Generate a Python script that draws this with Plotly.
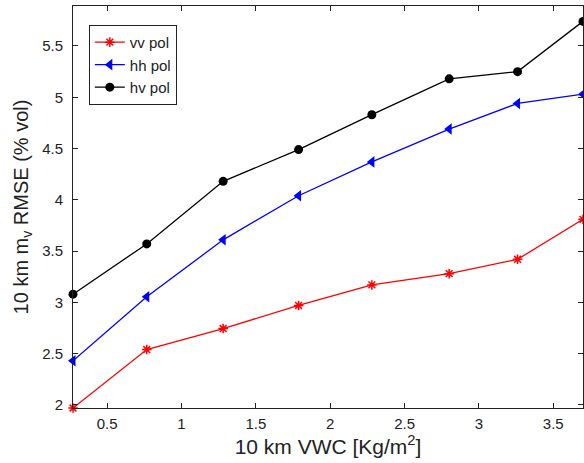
import plotly.graph_objects as go

vwc = [0.27, 0.766, 1.28, 1.787, 2.28, 2.80, 3.26, 3.70]
vv_pol = [1.97, 2.54, 2.745, 2.97, 3.17, 3.28, 3.42, 3.81]
hh_pol = [2.43, 3.055, 3.61, 4.04, 4.37, 4.69, 4.94, 5.03]
hv_pol = [3.08, 3.57, 4.18, 4.49, 4.83, 5.18, 5.25, 5.74]

x_ticks = [0.5, 1, 1.5, 2, 2.5, 3, 3.5]
y_ticks = [2, 2.5, 3, 3.5, 4, 4.5, 5, 5.5]

FONT = "Liberation Sans, Arial"

fig = go.Figure()
fig.add_trace(go.Scatter(x=vwc, y=vv_pol, name="vv pol", mode="lines+markers",
                         line=dict(color="#ff0000", width=1.3),
                         marker=dict(symbol="asterisk-open", size=8,
                                     line=dict(color="#ff0000", width=1.5)),
                         cliponaxis=False))
fig.add_trace(go.Scatter(x=vwc, y=hh_pol, name="hh pol", mode="lines+markers",
                         line=dict(color="#0000ff", width=1.3),
                         marker=dict(symbol="triangle-left", size=10, color="#0000ff"),
                         cliponaxis=False))
fig.add_trace(go.Scatter(x=vwc, y=hv_pol, name="hv pol", mode="lines+markers",
                         line=dict(color="#000000", width=1.3),
                         marker=dict(symbol="circle", size=9, color="#000000"),
                         cliponaxis=False))

axis_common = dict(showline=True, linecolor="#222", linewidth=1, mirror="ticks",
                   ticks="inside", ticklen=5, tickcolor="#222", showgrid=False,
                   zeroline=False, tickfont=dict(family=FONT, size=15, color="#222"))

fig.update_xaxes(range=[0.27, 3.70], tickvals=x_ticks, ticktext=[str(t) for t in x_ticks],
                 ticklabelstandoff=2,
                 title=dict(text="10 km VWC [Kg/m<sup>2</sup>]",
                            font=dict(family=FONT, size=21, color="#222"),
                            standoff=4),
                 **axis_common)
fig.update_yaxes(range=[1.97, 5.89], tickvals=y_ticks, ticktext=[str(t) for t in y_ticks],
                 ticklabelstandoff=6,
                 title=dict(text="10 km m<sub>v</sub> RMSE (% vol)",
                            font=dict(family=FONT, size=20, color="#222"),
                            standoff=8),
                 **axis_common)

fig.update_layout(
    width=584, height=463,
    margin=dict(l=73, r=1, t=6, b=55),
    paper_bgcolor="white", plot_bgcolor="white",
    showlegend=True,
    legend=dict(x=0.031, y=0.953, xanchor="left", yanchor="top",
                bgcolor="white", bordercolor="#222", borderwidth=1,
                font=dict(family=FONT, size=15, color="#222"),
                tracegroupgap=0, itemwidth=30),
)

fig.write_html("out.html", config={"displayModeBar": False},
               post_script="document.body.style.margin='0';")
